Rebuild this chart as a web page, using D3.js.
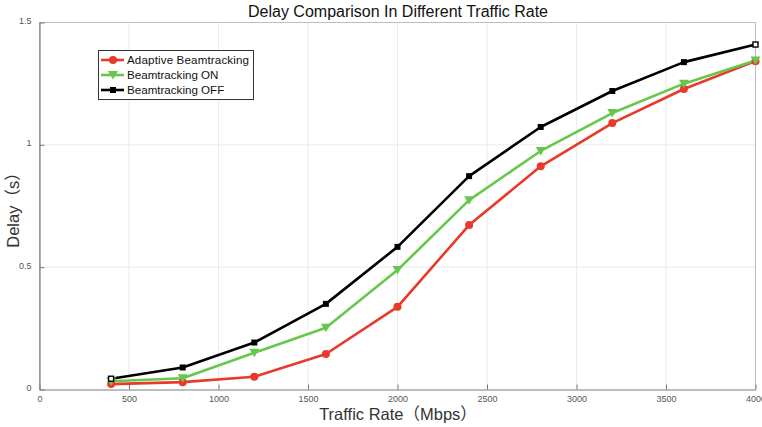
<!DOCTYPE html>
<html><head><meta charset="utf-8">
<script src="https://cdn.jsdelivr.net/npm/d3@7"></script>
<style>body{margin:0;background:#fff}svg{display:block}</style>
</head><body><svg id="c" width="762" height="427"></svg>
<script>
const rates = [400, 800, 1200, 1600, 2000, 2400, 2800, 3200, 3600, 4000];
const adaptive = [0.022, 0.03, 0.052, 0.145, 0.338, 0.672, 0.912, 1.089, 1.228, 1.342];
const btOn = [0.034, 0.046, 0.15, 0.252, 0.488, 0.774, 0.975, 1.13, 1.25, 1.345];
const btOff = [0.044, 0.09, 0.192, 0.35, 0.583, 0.872, 1.073, 1.22, 1.338, 1.41];
const xTicks = [0, 500, 1000, 1500, 2000, 2500, 3000, 3500, 4000];
const yTicks = [0, 0.5, 1, 1.5];
const seriesNames = ["Adaptive Beamtracking", "Beamtracking ON", "Beamtracking OFF"];

const svg = d3.select("#c");
const L = 39.5, R = 755.5, T = 22.5, B = 389.5;
const x = d3.scaleLinear().domain([0, 4000]).range([L, R]);
const y = d3.scaleLinear().domain([0, 1.5]).range([B, T]);
const FONT = "Liberation Sans, Arial, 'Noto Sans CJK SC', sans-serif";

// grid
const g = svg.append("g");
g.selectAll(".gx").data(xTicks).join("line").attr("x1", d => x(d)).attr("x2", d => x(d))
  .attr("y1", T).attr("y2", B).attr("stroke", "#ebebeb").attr("stroke-width", 1);
g.selectAll(".gy").data(yTicks).join("line").attr("y1", d => y(d)).attr("y2", d => y(d))
  .attr("x1", L).attr("x2", R).attr("stroke", "#ebebeb").attr("stroke-width", 1);

// box
svg.append("rect").attr("x", L).attr("y", T).attr("width", R - L).attr("height", B - T)
  .attr("fill", "none").attr("stroke", "#bdbdbd").attr("stroke-width", 1);

// axes
const xAxis = d3.axisBottom(x).tickValues(xTicks).tickSizeInner(-5).tickSizeOuter(0).tickPadding(6)
  .tickFormat(d => String(d));
const yAxis = d3.axisLeft(y).tickValues(yTicks).tickSizeInner(-5).tickSizeOuter(0).tickPadding(8)
  .tickFormat(d => String(d));
const ax = svg.append("g").attr("transform", `translate(0,${B})`).call(xAxis);
const ay = svg.append("g").attr("transform", `translate(${L},0)`).call(yAxis);
[ax, ay].forEach(a => {
  a.select(".domain").attr("stroke", "#777").attr("stroke-width", 1.3);
  a.selectAll(".tick line").attr("stroke", "#777");
  a.selectAll(".tick text").attr("fill", "#555").attr("font-family", FONT).attr("font-size", 9);
});
ax.select(".domain").attr("stroke", "#bdbdbd").attr("stroke-width", 2);
ay.select(".domain").attr("stroke", "#888");
ay.selectAll(".tick text").attr("dy", "0.1em");

// lines
const colors = ["#e8392b", "#66c84a", "#000000"];
const datasets = [adaptive, btOn, btOff];
const line = d3.line().x((d, i) => x(rates[i])).y(d => y(d));
datasets.forEach((ds, k) => {
  svg.append("path").datum(ds).attr("d", line).attr("fill", "none")
    .attr("stroke", colors[k]).attr("stroke-width", 2.6).attr("stroke-linejoin", "round");
});
function marker(sel, k) {
  if (k === 0) sel.append("circle").attr("r", 4).attr("fill", colors[0]);
  else if (k === 1) sel.append("path").attr("d", "M-5,-4L5,-4L0,4.5Z").attr("fill", colors[1]);
  else sel.append("rect").attr("x", -3).attr("y", -3).attr("width", 6).attr("height", 6).attr("fill", colors[2]);
}
datasets.forEach((ds, k) => {
  ds.forEach((v, i) => {
    const m = svg.append("g").attr("transform", `translate(${x(rates[i])},${y(v)})`);
    marker(m, k);
    if (k === 2 && (i === 0 || i === ds.length - 1)) {
      m.select("rect").attr("fill", "#fff").attr("stroke", "#000").attr("stroke-width", 1.4)
        .attr("x", -2.5).attr("y", -2.5).attr("width", 5).attr("height", 5);
    }
  });
});

// legend
const lg = svg.append("g");
lg.append("rect").attr("x", 98.5).attr("y", 50.5).attr("width", 155).attr("height", 49)
  .attr("fill", "#fff").attr("stroke", "#333").attr("stroke-width", 1);
seriesNames.forEach((n, k) => {
  const yy = 60 + k * 15;
  lg.append("line").attr("x1", 101).attr("x2", 124).attr("y1", yy).attr("y2", yy)
    .attr("stroke", colors[k]).attr("stroke-width", 2.6);
  const m = lg.append("g").attr("transform", `translate(113,${yy})`);
  marker(m, k);
  lg.append("text").attr("x", 127).attr("y", yy + 4.2).text(n)
    .attr("font-family", FONT).attr("font-size", 11.6).attr("fill", "#111")
    .attr("textLength", k === 0 ? 122 : null);
});

// titles
svg.append("text").attr("x", 398).attr("y", 17).attr("text-anchor", "middle")
  .attr("font-family", FONT).attr("font-size", 16).attr("fill", "#111")
  .text("Delay Comparison In Different Traffic Rate");
svg.append("text").attr("x", 398).attr("y", 420).attr("text-anchor", "middle")
  .attr("font-family", FONT).attr("font-size", 16.5).attr("fill", "#333")
  .text("Traffic Rate（Mbps）");
svg.append("text").attr("transform", "translate(19,206) rotate(-90)").attr("text-anchor", "middle")
  .attr("font-family", FONT).attr("font-size", 16.5).attr("fill", "#333")
  .text("Delay（s）");
</script></body></html>
